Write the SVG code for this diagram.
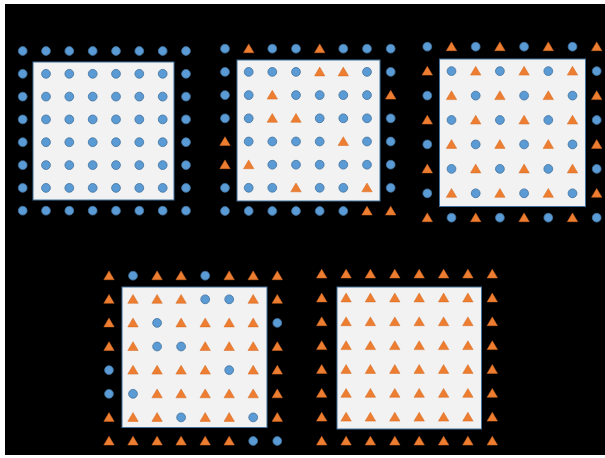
<svg xmlns="http://www.w3.org/2000/svg" xmlns:xlink="http://www.w3.org/1999/xlink" width="605" height="458" viewBox="0 0 605 458">
<style>
.bg{fill:#000}
.box{fill:#f2f2f2;stroke:#41719c;stroke-width:1}
.c{fill:#5b9bd5;stroke:#41719c;stroke-width:0.8}
.t{fill:#ed7d31;stroke:#d46a20;stroke-width:0.5}
</style>
<defs>
<circle id="C" class="c" cx="0" cy="0" r="4.4"/>
<polygon id="T" class="t" points="0,-4.8 5.2,4 -5.2,4"/>
</defs>
<rect width="605" height="458" fill="#fff"/>
<rect class="bg" x="5" y="4" width="600" height="451"/>
<g id="panel1">
<rect class="box" x="33" y="62" width="141" height="138"/>
<use href="#C" x="22.7" y="51"/><use href="#C" x="46" y="51"/><use href="#C" x="69.3" y="51"/><use href="#C" x="92.7" y="51"/><use href="#C" x="116" y="51"/><use href="#C" x="139.3" y="51"/><use href="#C" x="162.7" y="51"/><use href="#C" x="186" y="51"/>
<use href="#C" x="22.7" y="73.8"/><use href="#C" x="46" y="73.8"/><use href="#C" x="69.3" y="73.8"/><use href="#C" x="92.7" y="73.8"/><use href="#C" x="116" y="73.8"/><use href="#C" x="139.3" y="73.8"/><use href="#C" x="162.7" y="73.8"/><use href="#C" x="186" y="73.8"/>
<use href="#C" x="22.7" y="96.6"/><use href="#C" x="46" y="96.6"/><use href="#C" x="69.3" y="96.6"/><use href="#C" x="92.7" y="96.6"/><use href="#C" x="116" y="96.6"/><use href="#C" x="139.3" y="96.6"/><use href="#C" x="162.7" y="96.6"/><use href="#C" x="186" y="96.6"/>
<use href="#C" x="22.7" y="119.4"/><use href="#C" x="46" y="119.4"/><use href="#C" x="69.3" y="119.4"/><use href="#C" x="92.7" y="119.4"/><use href="#C" x="116" y="119.4"/><use href="#C" x="139.3" y="119.4"/><use href="#C" x="162.7" y="119.4"/><use href="#C" x="186" y="119.4"/>
<use href="#C" x="22.7" y="142.2"/><use href="#C" x="46" y="142.2"/><use href="#C" x="69.3" y="142.2"/><use href="#C" x="92.7" y="142.2"/><use href="#C" x="116" y="142.2"/><use href="#C" x="139.3" y="142.2"/><use href="#C" x="162.7" y="142.2"/><use href="#C" x="186" y="142.2"/>
<use href="#C" x="22.7" y="165.1"/><use href="#C" x="46" y="165.1"/><use href="#C" x="69.3" y="165.1"/><use href="#C" x="92.7" y="165.1"/><use href="#C" x="116" y="165.1"/><use href="#C" x="139.3" y="165.1"/><use href="#C" x="162.7" y="165.1"/><use href="#C" x="186" y="165.1"/>
<use href="#C" x="22.7" y="187.9"/><use href="#C" x="46" y="187.9"/><use href="#C" x="69.3" y="187.9"/><use href="#C" x="92.7" y="187.9"/><use href="#C" x="116" y="187.9"/><use href="#C" x="139.3" y="187.9"/><use href="#C" x="162.7" y="187.9"/><use href="#C" x="186" y="187.9"/>
<use href="#C" x="22.7" y="210.7"/><use href="#C" x="46" y="210.7"/><use href="#C" x="69.3" y="210.7"/><use href="#C" x="92.7" y="210.7"/><use href="#C" x="116" y="210.7"/><use href="#C" x="139.3" y="210.7"/><use href="#C" x="162.7" y="210.7"/><use href="#C" x="186" y="210.7"/>
</g>
<g id="panel2">
<rect class="box" x="237" y="60" width="143" height="141"/>
<use href="#C" x="225" y="48.7"/><use href="#T" x="248.7" y="48.7"/><use href="#C" x="272.3" y="48.7"/><use href="#C" x="296" y="48.7"/><use href="#T" x="319.7" y="48.7"/><use href="#C" x="343.3" y="48.7"/><use href="#C" x="367" y="48.7"/><use href="#C" x="390.7" y="48.7"/>
<use href="#C" x="225" y="71.9"/><use href="#C" x="248.7" y="71.9"/><use href="#C" x="272.3" y="71.9"/><use href="#C" x="296" y="71.9"/><use href="#T" x="319.7" y="71.9"/><use href="#T" x="343.3" y="71.9"/><use href="#C" x="367" y="71.9"/><use href="#C" x="390.7" y="71.9"/>
<use href="#C" x="225" y="95.1"/><use href="#C" x="248.7" y="95.1"/><use href="#T" x="272.3" y="95.1"/><use href="#C" x="296" y="95.1"/><use href="#C" x="319.7" y="95.1"/><use href="#C" x="343.3" y="95.1"/><use href="#C" x="367" y="95.1"/><use href="#T" x="390.7" y="95.1"/>
<use href="#C" x="225" y="118.3"/><use href="#C" x="248.7" y="118.3"/><use href="#T" x="272.3" y="118.3"/><use href="#T" x="296" y="118.3"/><use href="#C" x="319.7" y="118.3"/><use href="#C" x="343.3" y="118.3"/><use href="#C" x="367" y="118.3"/><use href="#C" x="390.7" y="118.3"/>
<use href="#T" x="225" y="141.5"/><use href="#C" x="248.7" y="141.5"/><use href="#C" x="272.3" y="141.5"/><use href="#C" x="296" y="141.5"/><use href="#C" x="319.7" y="141.5"/><use href="#T" x="343.3" y="141.5"/><use href="#C" x="367" y="141.5"/><use href="#C" x="390.7" y="141.5"/>
<use href="#T" x="225" y="164.7"/><use href="#T" x="248.7" y="164.7"/><use href="#C" x="272.3" y="164.7"/><use href="#C" x="296" y="164.7"/><use href="#C" x="319.7" y="164.7"/><use href="#C" x="343.3" y="164.7"/><use href="#C" x="367" y="164.7"/><use href="#C" x="390.7" y="164.7"/>
<use href="#C" x="225" y="187.8"/><use href="#C" x="248.7" y="187.8"/><use href="#C" x="272.3" y="187.8"/><use href="#T" x="296" y="187.8"/><use href="#C" x="319.7" y="187.8"/><use href="#C" x="343.3" y="187.8"/><use href="#T" x="367" y="187.8"/><use href="#C" x="390.7" y="187.8"/>
<use href="#C" x="225" y="211"/><use href="#C" x="248.7" y="211"/><use href="#C" x="272.3" y="211"/><use href="#C" x="296" y="211"/><use href="#C" x="319.7" y="211"/><use href="#C" x="343.3" y="211"/><use href="#T" x="367" y="211"/><use href="#T" x="390.7" y="211"/>
</g>
<g id="panel3">
<rect class="box" x="439.5" y="59" width="146" height="147.5"/>
<use href="#C" x="427.3" y="46.7"/><use href="#T" x="451.5" y="46.7"/><use href="#C" x="475.7" y="46.7"/><use href="#T" x="499.9" y="46.7"/><use href="#C" x="524.1" y="46.7"/><use href="#T" x="548.3" y="46.7"/><use href="#C" x="572.5" y="46.7"/><use href="#T" x="596.7" y="46.7"/>
<use href="#T" x="427.3" y="71.1"/><use href="#C" x="451.5" y="71.1"/><use href="#T" x="475.7" y="71.1"/><use href="#C" x="499.9" y="71.1"/><use href="#T" x="524.1" y="71.1"/><use href="#C" x="548.3" y="71.1"/><use href="#T" x="572.5" y="71.1"/><use href="#C" x="596.7" y="71.1"/>
<use href="#C" x="427.3" y="95.6"/><use href="#T" x="451.5" y="95.6"/><use href="#C" x="475.7" y="95.6"/><use href="#T" x="499.9" y="95.6"/><use href="#C" x="524.1" y="95.6"/><use href="#T" x="548.3" y="95.6"/><use href="#C" x="572.5" y="95.6"/><use href="#T" x="596.7" y="95.6"/>
<use href="#T" x="427.3" y="120"/><use href="#C" x="451.5" y="120"/><use href="#T" x="475.7" y="120"/><use href="#C" x="499.9" y="120"/><use href="#T" x="524.1" y="120"/><use href="#C" x="548.3" y="120"/><use href="#T" x="572.5" y="120"/><use href="#C" x="596.7" y="120"/>
<use href="#C" x="427.3" y="144.4"/><use href="#T" x="451.5" y="144.4"/><use href="#C" x="475.7" y="144.4"/><use href="#T" x="499.9" y="144.4"/><use href="#C" x="524.1" y="144.4"/><use href="#T" x="548.3" y="144.4"/><use href="#C" x="572.5" y="144.4"/><use href="#T" x="596.7" y="144.4"/>
<use href="#T" x="427.3" y="168.9"/><use href="#C" x="451.5" y="168.9"/><use href="#T" x="475.7" y="168.9"/><use href="#C" x="499.9" y="168.9"/><use href="#T" x="524.1" y="168.9"/><use href="#C" x="548.3" y="168.9"/><use href="#T" x="572.5" y="168.9"/><use href="#C" x="596.7" y="168.9"/>
<use href="#C" x="427.3" y="193.3"/><use href="#T" x="451.5" y="193.3"/><use href="#C" x="475.7" y="193.3"/><use href="#T" x="499.9" y="193.3"/><use href="#C" x="524.1" y="193.3"/><use href="#T" x="548.3" y="193.3"/><use href="#C" x="572.5" y="193.3"/><use href="#T" x="596.7" y="193.3"/>
<use href="#T" x="427.3" y="217.7"/><use href="#C" x="451.5" y="217.7"/><use href="#T" x="475.7" y="217.7"/><use href="#C" x="499.9" y="217.7"/><use href="#T" x="524.1" y="217.7"/><use href="#C" x="548.3" y="217.7"/><use href="#T" x="572.5" y="217.7"/><use href="#C" x="596.7" y="217.7"/>
</g>
<g id="panel4">
<rect class="box" x="122" y="287" width="145" height="140.5"/>
<use href="#T" x="109" y="275.7"/><use href="#C" x="133" y="275.7"/><use href="#T" x="157.1" y="275.7"/><use href="#T" x="181.1" y="275.7"/><use href="#C" x="205.2" y="275.7"/><use href="#T" x="229.2" y="275.7"/><use href="#T" x="253.2" y="275.7"/><use href="#T" x="277.3" y="275.7"/>
<use href="#T" x="109" y="299.3"/><use href="#T" x="133" y="299.3"/><use href="#T" x="157.1" y="299.3"/><use href="#T" x="181.1" y="299.3"/><use href="#C" x="205.2" y="299.3"/><use href="#C" x="229.2" y="299.3"/><use href="#T" x="253.2" y="299.3"/><use href="#T" x="277.3" y="299.3"/>
<use href="#T" x="109" y="322.9"/><use href="#T" x="133" y="322.9"/><use href="#C" x="157.1" y="322.9"/><use href="#T" x="181.1" y="322.9"/><use href="#T" x="205.2" y="322.9"/><use href="#T" x="229.2" y="322.9"/><use href="#T" x="253.2" y="322.9"/><use href="#C" x="277.3" y="322.9"/>
<use href="#T" x="109" y="346.5"/><use href="#T" x="133" y="346.5"/><use href="#C" x="157.1" y="346.5"/><use href="#C" x="181.1" y="346.5"/><use href="#T" x="205.2" y="346.5"/><use href="#T" x="229.2" y="346.5"/><use href="#T" x="253.2" y="346.5"/><use href="#T" x="277.3" y="346.5"/>
<use href="#C" x="109" y="370.1"/><use href="#T" x="133" y="370.1"/><use href="#T" x="157.1" y="370.1"/><use href="#T" x="181.1" y="370.1"/><use href="#T" x="205.2" y="370.1"/><use href="#C" x="229.2" y="370.1"/><use href="#T" x="253.2" y="370.1"/><use href="#T" x="277.3" y="370.1"/>
<use href="#C" x="109" y="393.8"/><use href="#C" x="133" y="393.8"/><use href="#T" x="157.1" y="393.8"/><use href="#T" x="181.1" y="393.8"/><use href="#T" x="205.2" y="393.8"/><use href="#T" x="229.2" y="393.8"/><use href="#T" x="253.2" y="393.8"/><use href="#T" x="277.3" y="393.8"/>
<use href="#T" x="109" y="417.4"/><use href="#T" x="133" y="417.4"/><use href="#T" x="157.1" y="417.4"/><use href="#C" x="181.1" y="417.4"/><use href="#T" x="205.2" y="417.4"/><use href="#T" x="229.2" y="417.4"/><use href="#C" x="253.2" y="417.4"/><use href="#T" x="277.3" y="417.4"/>
<use href="#T" x="109" y="441"/><use href="#T" x="133" y="441"/><use href="#T" x="157.1" y="441"/><use href="#T" x="181.1" y="441"/><use href="#T" x="205.2" y="441"/><use href="#T" x="229.2" y="441"/><use href="#C" x="253.2" y="441"/><use href="#C" x="277.3" y="441"/>
</g>
<g id="panel5">
<rect class="box" x="337" y="287" width="144.5" height="142"/>
<use href="#T" x="321.7" y="274"/><use href="#T" x="346.1" y="274"/><use href="#T" x="370.4" y="274"/><use href="#T" x="394.8" y="274"/><use href="#T" x="419.2" y="274"/><use href="#T" x="443.6" y="274"/><use href="#T" x="467.9" y="274"/><use href="#T" x="492.3" y="274"/>
<use href="#T" x="321.7" y="297.9"/><use href="#T" x="346.1" y="297.9"/><use href="#T" x="370.4" y="297.9"/><use href="#T" x="394.8" y="297.9"/><use href="#T" x="419.2" y="297.9"/><use href="#T" x="443.6" y="297.9"/><use href="#T" x="467.9" y="297.9"/><use href="#T" x="492.3" y="297.9"/>
<use href="#T" x="321.7" y="321.7"/><use href="#T" x="346.1" y="321.7"/><use href="#T" x="370.4" y="321.7"/><use href="#T" x="394.8" y="321.7"/><use href="#T" x="419.2" y="321.7"/><use href="#T" x="443.6" y="321.7"/><use href="#T" x="467.9" y="321.7"/><use href="#T" x="492.3" y="321.7"/>
<use href="#T" x="321.7" y="345.6"/><use href="#T" x="346.1" y="345.6"/><use href="#T" x="370.4" y="345.6"/><use href="#T" x="394.8" y="345.6"/><use href="#T" x="419.2" y="345.6"/><use href="#T" x="443.6" y="345.6"/><use href="#T" x="467.9" y="345.6"/><use href="#T" x="492.3" y="345.6"/>
<use href="#T" x="321.7" y="369.4"/><use href="#T" x="346.1" y="369.4"/><use href="#T" x="370.4" y="369.4"/><use href="#T" x="394.8" y="369.4"/><use href="#T" x="419.2" y="369.4"/><use href="#T" x="443.6" y="369.4"/><use href="#T" x="467.9" y="369.4"/><use href="#T" x="492.3" y="369.4"/>
<use href="#T" x="321.7" y="393.3"/><use href="#T" x="346.1" y="393.3"/><use href="#T" x="370.4" y="393.3"/><use href="#T" x="394.8" y="393.3"/><use href="#T" x="419.2" y="393.3"/><use href="#T" x="443.6" y="393.3"/><use href="#T" x="467.9" y="393.3"/><use href="#T" x="492.3" y="393.3"/>
<use href="#T" x="321.7" y="417.1"/><use href="#T" x="346.1" y="417.1"/><use href="#T" x="370.4" y="417.1"/><use href="#T" x="394.8" y="417.1"/><use href="#T" x="419.2" y="417.1"/><use href="#T" x="443.6" y="417.1"/><use href="#T" x="467.9" y="417.1"/><use href="#T" x="492.3" y="417.1"/>
<use href="#T" x="321.7" y="441"/><use href="#T" x="346.1" y="441"/><use href="#T" x="370.4" y="441"/><use href="#T" x="394.8" y="441"/><use href="#T" x="419.2" y="441"/><use href="#T" x="443.6" y="441"/><use href="#T" x="467.9" y="441"/><use href="#T" x="492.3" y="441"/>
</g>
</svg>
